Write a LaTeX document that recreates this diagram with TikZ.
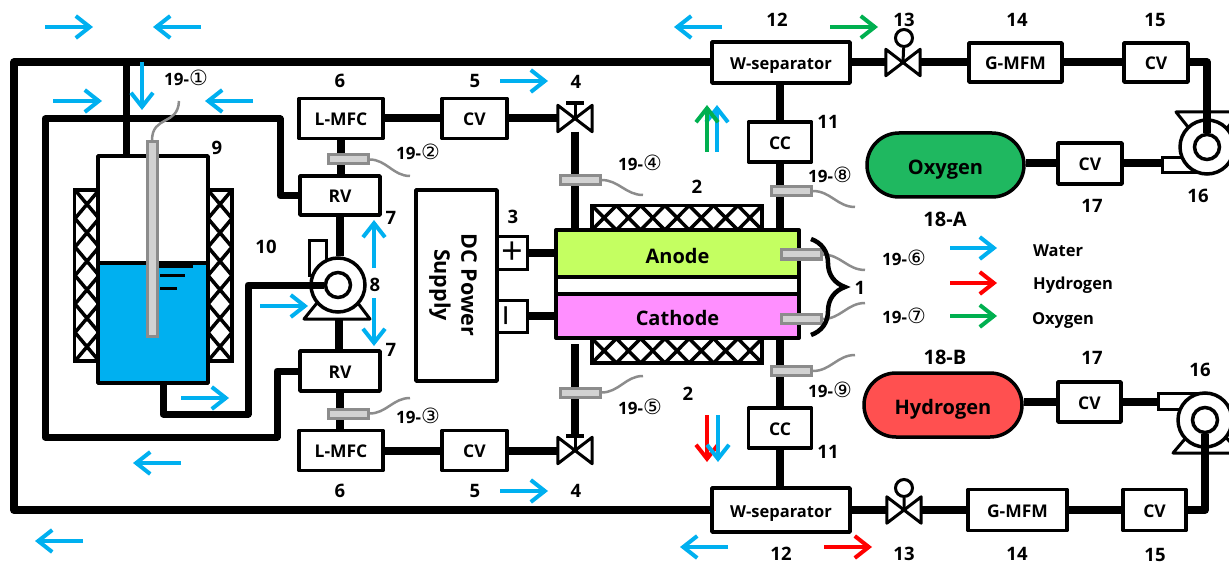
\documentclass[tikz,border=0pt]{standalone}
\usepackage{fontspec}
\setmainfont{Open Sans}
\newfontfamily\circfont{DejaVu Sans}
\usepackage{xcolor}
\usepackage{tikz}
\usetikzlibrary{arrows.meta,calc,shapes.misc,decorations.pathreplacing}

\definecolor{waterblue}{HTML}{00B0F0}
\definecolor{oxygreen}{HTML}{00B050}
\definecolor{hydrored}{HTML}{FF0000}
\definecolor{anodecol}{HTML}{C4FF61}
\definecolor{cathodecol}{HTML}{FF8FFF}
\definecolor{oxytank}{HTML}{1FB860}
\definecolor{hydtank}{HTML}{FF5050}

\tikzset{
	pipe/.style={line width=8pt,line join=round},
	waterpipe/.style={line width=7pt,line join=round},
	box/.style={draw,line width=3.5pt,fill=white,inner sep=0pt,line join=round,text height=17pt,text depth=2.6pt,font=\fontsize{17.5}{18}\selectfont\bfseries},
	signbox/.style={draw,line width=3pt,fill=white,inner sep=0pt,minimum width=30pt,minimum height=32pt,font=\fontsize{38}{38}\selectfont},
	num/.style={inner sep=0pt,font=\fontsize{18.5}{19}\selectfont\bfseries},
	small/.style={inner sep=0pt,font=\fontsize{17}{17}\selectfont\bfseries},
	legendtxt/.style={inner sep=0pt,font=\fontsize{16.5}{17}\selectfont\bfseries},
	big/.style={text height=22pt,text depth=2.8pt,font=\fontsize{20}{20}\selectfont\bfseries},
	heater/.style={draw,line width=3.5pt,fill=white,inner sep=0pt},
	hatchline/.style={line width=3.5pt},
	sensor/.style={draw=gray!90,line width=3pt,fill=gray!35,inner sep=0pt,minimum width=40pt,minimum height=9pt},
	wire/.style={gray!90,line width=2.5pt},
	valve/.style={inner sep=0pt,minimum width=34pt,minimum height=26pt},
	pumpbody/.style={draw,circle,line width=3.5pt,fill=white,inner sep=0pt,minimum size=54pt},
	pumpeye/.style={draw,circle,line width=3.5pt,fill=white,inner sep=0pt,minimum size=25pt},
	pumpout/.style={draw,line width=3pt,fill=white,inner sep=0pt},
	thin part/.style={line width=3pt,line join=round},
	flow/.style={line width=4pt,-{Straight Barb[length=14pt,width=22pt]}},
}

\newcommand{\sno}[1]{19-{\circfont\mdseries\fontsize{21}{21}\selectfont #1}}
\newcommand{\valvebody}[1]{\draw[thin part,fill=white] (#1.north west) -- (#1.south east) -- (#1.north east) -- (#1.south west) -- cycle;}
\newcommand{\hatch}[6]{\foreach \i in {1,...,#5} \foreach \j in {1,...,#6} \draw[hatchline] ({#1+(\i-1)*#3},{#2+(\j-1)*#4}) -- ++(#3,#4) ({#1+\i*#3},{#2+(\j-1)*#4}) -- ++(-#3,#4);}
\newcommand{\flowarrow}[3]{\coordinate (fa) at (#2); \coordinate (fb) at (#3); \draw[flow,#1] (fa) -- (fb);}

\begin{document}
\begin{tikzpicture}[x=1pt,y=-1pt]
	\useasboundingbox (0,0) rectangle (1229,564);

	% boxes
	\node[box,minimum width=84pt,minimum height=40pt] (lmfcup) at (341,118.5) {L-MFC};
	\node[box,minimum width=65pt,minimum height=40pt] (cvup) at (474.5,118.5) {CV};
	\node[box,minimum width=80pt,minimum height=39pt] (rvup) at (340,195.5) {RV};
	\node[box,minimum width=80pt,minimum height=40pt] (rvdown) at (340,371) {RV};
	\node[box,minimum width=84pt,minimum height=40pt] (lmfcdown) at (341,450.5) {L-MFC};
	\node[box,minimum width=65pt,minimum height=40pt] (cvdown) at (474.5,450.5) {CV};
	\node[box,font=\fontsize{16.5}{17}\selectfont\bfseries,minimum width=138pt,minimum height=41pt] (wsup) at (781,62.5) {W-separator};
	\node[box,font=\fontsize{16.5}{17}\selectfont\bfseries,minimum width=138pt,minimum height=44pt] (wsdown) at (781,510) {W-separator};
	\node[box,minimum width=63pt,minimum height=40pt] (ccup) at (780,142) {CC};
	\node[box,minimum width=63pt,minimum height=40pt] (ccdown) at (780,428) {CC};
	\node[box,minimum width=93pt,minimum height=39pt] (gmfmup) at (1015.5,62.5) {G-MFM};
	\node[box,minimum width=64pt,minimum height=39pt] (cvrup) at (1156,62.5) {CV};
	\node[box,minimum width=99pt,minimum height=41pt] (gmfmdown) at (1017.5,510) {G-MFM};
	\node[box,minimum width=63pt,minimum height=41pt] (cvrdown) at (1154.5,510) {CV};
	\node[box,minimum width=64pt,minimum height=41pt] (cvoxy) at (1090,163.5) {CV};
	\node[box,minimum width=63pt,minimum height=40pt] (cvhyd) at (1089.5,402) {CV};

	% tanks
	\node[box,big,rounded rectangle,fill=oxytank,minimum width=157pt,minimum height=64pt] (oxy) at (945.5,165) {Oxygen};
	\node[box,big,rounded rectangle,fill=hydtank,minimum width=158pt,minimum height=64pt] (hyd) at (943,405) {Hydrogen};

	% power supply and stack
	\node[box,minimum width=81pt,minimum height=191pt] (power) at (456.5,285.5) {};
	\node[rotate=-90,align=center,inner sep=0pt,font=\fontsize{21.5}{27}\selectfont\bfseries] (powertxt) at (453,285) {DC Power\\Supply};
	\node[signbox] (plus) at (512,253) {+};
	\node[signbox] (minus) at (512,316) {\rotatebox{90}{−}};
	\node[heater,minimum width=170pt,minimum height=25pt] (heatup) at (677,218) {};
	\node[heater,minimum width=170pt,minimum height=25pt] (heatdown) at (677,350.5) {};
	\hatch{592}{205.5}{24.3}{24.5}{7}{1}
	\hatch{592}{338.5}{24.3}{24.5}{7}{1}
	\node[box,line width=4pt,big,fill=anodecol,minimum width=243pt,minimum height=47pt] (anode) at (677.5,253.5) {Anode};
	\node[box,line width=4pt,minimum width=243pt,minimum height=17pt,text height=0pt,text depth=0pt] (mem) at (677.5,285.5) {};
	\node[box,line width=4pt,big,fill=cathodecol,minimum width=243pt,minimum height=44pt] (cathode) at (677.5,316) {Cathode};

	% water vessel
	\node[heater,minimum width=25pt,minimum height=171pt] (heatl) at (87,275.5) {};
	\node[heater,minimum width=24pt,minimum height=171pt] (heatr) at (220,275.5) {};
	\hatch{75}{190}{24}{28.5}{1}{6}
	\hatch{208}{190}{24}{28.5}{1}{6}
	\node[box,minimum width=110pt,minimum height=227pt] (tank) at (153,269.5) {};
	\node[box,fill=waterblue,minimum width=110pt,minimum height=120pt] (water) at (153,323) {};
	\draw[line width=3pt] (158,266) -- (193,266) (160,275) -- (185,275) (160,288) -- (177,288);
	\node[draw=gray!90,line width=3pt,fill=gray!35,inner sep=0pt,minimum width=10pt,minimum height=194pt] (probe) at (152,239) {};

	% pumps
	\draw[thin part,fill=white] (304,319) -- (370,319) -- (354,298) -- (321,298) -- cycle;
	\coordinate (base8) at (339,319);
	\node[pumpout,minimum width=17pt,minimum height=34pt] (out8) at (317.5,258) {};
	\node[pumpbody] (pump8) at (338,285) {};
	\node[pumpeye] (eye8) at (338,285) {};

	\draw[thin part,fill=white] (1176,112) -- (1240,112) -- (1224,132) -- (1192,132) -- cycle;
	\node[pumpout,minimum width=36pt,minimum height=15pt] (outup) at (1180,165) {};
	\node[pumpbody] (pumpup) at (1207,147) {};
	\node[pumpeye] (eyeup) at (1207,147) {};

	\draw[thin part,fill=white] (1173,453) -- (1240,453) -- (1222,433) -- (1190,433) -- cycle;
	\node[pumpout,minimum width=42pt,minimum height=16pt] (outdown) at (1179,401) {};
	\node[pumpbody] (pumpdown) at (1205,420) {};
	\node[pumpeye] (eyedown) at (1205,420) {};

	% valves
	\node[valve] (v4up) at (575,118.5) {};
	\node[valve] (v4down) at (575,450.5) {};
	\node[valve] (v13up) at (903,62.5) {};
	\node[valve] (v13down) at (904,510) {};
	\node[draw,circle,line width=3pt,inner sep=0pt,minimum size=17pt] (knobup) at (904,38) {};
	\node[draw,circle,line width=3pt,inner sep=0pt,minimum size=17pt] (knobdown) at (904,488) {};
	\coordinate (t4up) at (575,103);
	\coordinate (t4down) at (575,436);
	\draw[thin part] (t4up) -- (v4up.center) (t4down) -- (v4down.center);
	\draw[thin part] (knobup) -- (v13up.center) (knobdown) -- (v13down.center);
	\draw[line width=3.5pt] ($(t4up)+(-9,0)$) -- ($(t4up)+(9,0)$) ($(t4down)+(-9,0)$) -- ($(t4down)+(9,0)$);
	\valvebody{v4up}
	\valvebody{v4down}
	\valvebody{v13up}
	\valvebody{v13down}

	% water loops
	\coordinate (lft) at (14,285);
	\draw[pipe] (wsup.west) -| (lft) |- (wsdown.west);
	\coordinate (ia) at (280,119);
	\coordinate (ib) at (45,119);
	\coordinate (ic) at (45,437);
	\coordinate (id) at (277,437);
	\draw[waterpipe] (rvup.west) -| (ia) -- (ib) -- (ic) -- (id) |- (rvdown.west);
	\coordinate (tt) at (126,63);
	\draw[waterpipe] (tt) -- (tt |- tank.north);
	\coordinate (pa) at (163,414);
	\coordinate (pb) at (248,414);
	\draw[waterpipe] (tank.south -| pa) -- (pa) -- (pb) |- (eye8.west);
	\draw[pipe] (rvup.south) -- (rvup.south |- pump8.north);
	\draw[pipe] (base8) -- (base8 |- rvdown.north);
	\draw[pipe] (rvdown.south) -- (rvdown.south |- lmfcdown.north);
	\draw[pipe] (lmfcup.south |- rvup.north) -- (lmfcup.south);
	\draw[pipe] (lmfcup.east) -- (cvup.west);
	\draw[pipe] (lmfcdown.east) -- (cvdown.west);
	\draw[pipe] (cvup.east) -- (v4up.west);
	\draw[pipe] (cvdown.east) -- (v4down.west);
	\draw[pipe] (v4up.south) -- (v4up.south |- anode.north);
	\draw[pipe] (v4down.north |- cathode.south) ++(0,4) -- (v4down.north);
	\draw[pipe] (plus.east) -- (plus.east -| anode.west);
	\draw[pipe] (minus.east) -- (minus.east -| cathode.west);

	% gas lines
	\draw[pipe] (ccup.north) -- (ccup.north |- wsup.south);
	\draw[pipe] (ccup.south) -- (ccup.south |- anode.north);
	\draw[pipe] (ccdown.north) -- (ccdown.north |- cathode.south);
	\draw[pipe] (ccdown.south) -- (ccdown.south |- wsdown.north);
	\draw[pipe] (wsup.east) -- (v13up.west);
	\draw[pipe] (wsdown.east) -- (v13down.west);
	\draw[pipe] (v13up.east) -- (gmfmup.west);
	\draw[pipe] (v13down.east) -- (gmfmdown.west);
	\draw[pipe] (gmfmup.east) -- (cvrup.west);
	\draw[pipe] (gmfmdown.east) -- (cvrdown.west);
	\draw[pipe] (cvrup.east) -| (eyeup.north);
	\draw[pipe] (cvrdown.east) -| (eyedown.south);
	\draw[pipe] (oxy.east |- cvoxy) -- (cvoxy.west);
	\draw[pipe] (cvoxy.east) -- (cvoxy.east -| outup.west);
	\draw[pipe] (hyd.east |- cvhyd) -- (cvhyd.west);
	\draw[pipe] (cvhyd.east) -- (cvhyd.east -| outdown.west);

	% sensors
	\node[sensor] (s2) at (348,159.5) {};
	\node[sensor] (s3) at (348,413.5) {};
	\node[sensor] (s4) at (580,180) {};
	\node[sensor] (s5) at (580,392.5) {};
	\node[sensor] (s6) at (801.5,254.5) {};
	\node[sensor] (s7) at (801.5,319) {};
	\node[sensor] (s8) at (791.5,191) {};
	\node[sensor] (s9) at (791.5,371) {};
	\coordinate (w1) at (179,101);
	\coordinate (w2) at (410,176);
	\coordinate (w3) at (410,398);
	\coordinate (w4) at (643,195);
	\coordinate (w5) at (643,376);
	\coordinate (w6) at (865,270);
	\coordinate (w7) at (865,303);
	\coordinate (w8) at (855,207);
	\coordinate (w9) at (855,355);
	\draw[wire] (probe.north) .. controls (152,115) and (178,126) .. (w1);
	\draw[wire] (s2.east) to[out=0,in=180] (w2);
	\draw[wire] (s3.east) to[out=0,in=180] (w3);
	\draw[wire] (s4.east) to[out=0,in=180] (w4);
	\draw[wire] (s5.east) to[out=0,in=180] (w5);
	\draw[wire] (s6.east) to[out=0,in=180] (w6);
	\draw[wire] (s7.east) to[out=0,in=180] (w7);
	\draw[wire] (s8.east) to[out=0,in=180] (w8);
	\draw[wire] (s9.east) to[out=0,in=180] (w9);

	% brace
	\coordinate (bu) at (811,239);
	\coordinate (bd) at (811,335);
	\draw[decorate,decoration={brace,amplitude=34pt,aspect=0.5},line width=4.5pt] (bu) -- (bd);

	% flow arrows
	\flowarrow{waterblue}{45,27}{93,27}
	\flowarrow{waterblue}{201,27}{153,27}
	\flowarrow{waterblue}{53,101}{102,101}
	\flowarrow{waterblue}{253,101}{205,101}
	\flowarrow{waterblue}{142,62}{142,110}
	\flowarrow{waterblue}{500,81}{548,81}
	\flowarrow{waterblue}{374,268}{374,220}
	\flowarrow{waterblue}{374,298}{374,346}
	\flowarrow{waterblue}{260,306}{308,306}
	\flowarrow{waterblue}{181,398}{229,398}
	\flowarrow{waterblue}{181,463}{133,463}
	\flowarrow{waterblue}{83,541}{35,541}
	\flowarrow{waterblue}{500,491}{548,491}
	\flowarrow{waterblue}{722,27}{674,27}
	\flowarrow{oxygreen}{830,27}{878,27}
	\flowarrow{waterblue}{717,152}{717,105}
	\flowarrow{oxygreen}{707,152}{707,105}
	\flowarrow{hydrored}{707,415}{707,462}
	\flowarrow{waterblue}{718,415}{718,462}
	\flowarrow{waterblue}{728,547}{680,547}
	\flowarrow{hydrored}{824,547}{872,547}
	\flowarrow{waterblue}{950,248}{997,248}
	\flowarrow{hydrored}{950,283}{997,283}
	\flowarrow{oxygreen}{950,316}{997,316}

	% numbers
	\node[num] (n1) at (860,288) {1};
	\node[num] (n2up) at (697,187) {2};
	\node[num] (n2down) at (688,394) {2};
	\node[num] (n3) at (513,217) {3};
	\node[num] (n4up) at (576,82) {4};
	\node[num] (n4down) at (576,491) {4};
	\node[num] (n5up) at (475,81) {5};
	\node[num] (n5down) at (475,491) {5};
	\node[num] (n6up) at (340,81) {6};
	\node[num] (n6down) at (340,491) {6};
	\node[num] (n7up) at (391,218) {7};
	\node[num] (n7down) at (391,350) {7};
	\node[num] (n8) at (375,285) {8};
	\node[num] (n9) at (217,148) {9};
	\node[num] (n10) at (266,247) {10};
	\node[num] (n11up) at (828,122) {11};
	\node[num] (n11down) at (828,452) {11};
	\node[num] (n12up) at (777,20) {12};
	\node[num] (n12down) at (781,554) {12};
	\node[num] (n13up) at (904,20) {13};
	\node[num] (n13down) at (904,554) {13};
	\node[num] (n14up) at (1017,20) {14};
	\node[num] (n14down) at (1017,554) {14};
	\node[num] (n15up) at (1155,20) {15};
	\node[num] (n15down) at (1155,555) {15};
	\node[num] (n16up) at (1198,196) {16};
	\node[num] (n16down) at (1200,370) {16};
	\node[num] (n17up) at (1092,206) {17};
	\node[num] (n17down) at (1092,358) {17};
	\node[num,font=\fontsize{20}{20}\selectfont\bfseries] (n18a) at (945,219) {18-A};
	\node[num,font=\fontsize{20}{20}\selectfont\bfseries] (n18b) at (945,357) {18-B};

	% sensor labels
	\node[small] (l1) at (186,78) {\sno{①}};
	\node[small] (l2) at (418,152) {\sno{②}};
	\node[small] (l3) at (418,416) {\sno{③}};
	\node[small] (l4) at (640,163) {\sno{④}};
	\node[small] (l5) at (640,407) {\sno{⑤}};
	\node[small] (l6) at (904,258) {\sno{⑥}};
	\node[small] (l7) at (904,316) {\sno{⑦}};
	\node[small] (l8) at (830,175) {\sno{⑧}};
	\node[small] (l9) at (830,390) {\sno{⑨}};

	% legend
	\node[legendtxt] (lgw) at (1058,251) {Water};
	\node[legendtxt] (lgh) at (1073,285) {Hydrogen};
	\node[legendtxt] (lgo) at (1063,320) {Oxygen};
\end{tikzpicture}
\end{document}
